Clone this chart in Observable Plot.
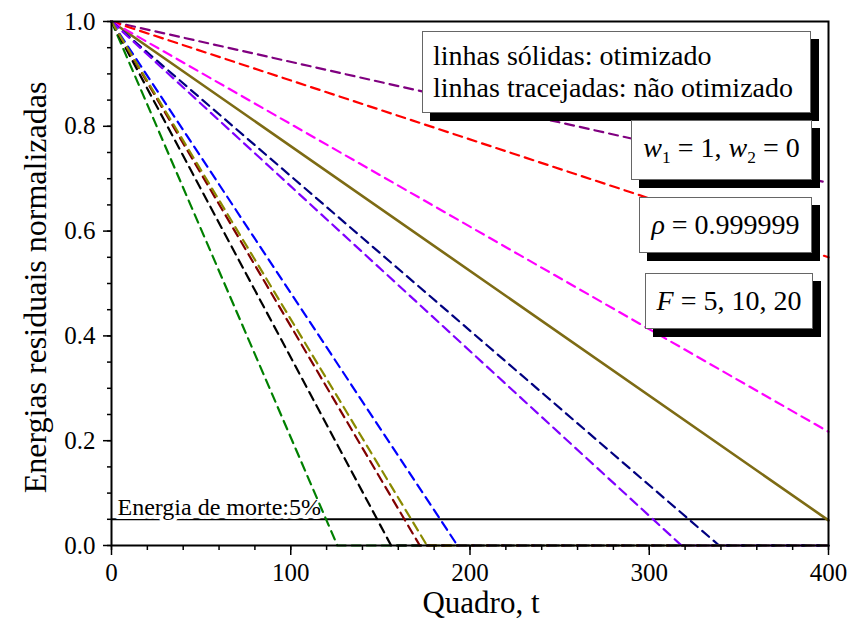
<!DOCTYPE html>
<html><head><meta charset="utf-8">
<script src="https://cdn.jsdelivr.net/npm/d3@7"></script>
<script src="https://cdn.jsdelivr.net/npm/@observablehq/plot@0.6"></script>
<style>
body{margin:0;background:#fff;}
#wrap{position:relative;width:852px;height:621px;font-family:"Liberation Serif",serif;}
#wrap svg, #wrap svg text{font-family:"Liberation Serif",serif !important;}
.box{position:absolute;box-sizing:border-box;background:#fff;border:1px solid #666;box-shadow:8px 8px 0 #000;font-size:28px;color:#000;display:flex;flex-direction:column;justify-content:center;align-items:center;white-space:nowrap;}
.box.left{align-items:flex-start;padding-left:10px;line-height:32px;}
sub{font-size:62%;vertical-align:-0.35em;}
</style></head><body><div id="wrap"></div>
<script>
// ---- data ----
const seriesNames = ["purple", "red", "magenta", "green", "black", "wine", "blue", "navy", "violet", "olive", "optimized"];
const seriesColors = ["#800080", "#ff0000", "#ff00ff", "#008000", "#000000", "#800000", "#0000ff", "#000080", "#8000ff", "#8a8a00", "#7d6b14"];
const seriesDashed = [true, true, true, true, true, true, true, true, true, true, false];
const seriesT = [
  [0, 400], [0, 400], [0, 400],
  [0, 126, 400], [0, 156, 400], [0, 172, 400], [0, 193, 400],
  [0, 339, 400], [0, 318, 400], [0, 176, 400],
  [0, 400]
];
const seriesE = [
  [1, 0.692], [1, 0.55], [1, 0.217],
  [1, 0, 0], [1, 0, 0], [1, 0, 0], [1, 0, 0],
  [1, 0, 0], [1, 0, 0], [1, 0, 0],
  [1, 0.048]
];
const xTicks = [0, 100, 200, 300, 400];
const xMinorTicks = d3.range(0, 401, 20);
const yTicks = [0, 0.2, 0.4, 0.6, 0.8, 1.0];
const yMinorTicks = d3.range(0, 1.0001, 0.05);
const deathEnergy = 0.05;
const deathLabel = "Energia de morte:5%";
const xLabel = "Quadro, ";
const xLabelItalic = "t";
const yLabel = "Energias residuais normalizadas";

// ---- build rows ----
const rows = [];
seriesNames.forEach((s, i) => {
  seriesT[i].forEach((t, j) => rows.push({s, t, e: seriesE[i][j], color: seriesColors[i], dashed: seriesDashed[i]}));
});
const dashedRows = rows.filter(d => d.dashed && d.s !== "olive");
const oliveRows = rows.filter(d => d.s === "olive");
const solidRows = rows.filter(d => !d.dashed);

const plot = Plot.plot({
  width: 852, height: 621,
  marginLeft: 111, marginRight: 24, marginTop: 21, marginBottom: 76,
  x: {domain: [0, 400]},
  y: {domain: [0, 1]},
  color: {type: "identity"},
  style: {fontFamily: "Liberation Serif", fontSize: "25px", color: "#000", background: "#fff"},
  marks: [
    Plot.ruleY([deathEnergy], {stroke: "#000", strokeWidth: 2}),
    Plot.text([deathLabel], {y: () => deathEnergy, frameAnchor: "left", textAnchor: "start", lineAnchor: "middle", dx: 6, dy: -12, fontSize: 24, fill: "#000", stroke: "#fff", strokeWidth: 8}),
    Plot.line(solidRows, {x: "t", y: "e", z: "s", stroke: "color", strokeWidth: 2.6}),
    Plot.line(dashedRows, {x: "t", y: "e", z: "s", stroke: "color", strokeWidth: 2.2, strokeDasharray: "9,6"}),
    Plot.line(oliveRows, {x: "t", y: "e", z: "s", stroke: "color", strokeWidth: 2.2, strokeDasharray: "9,6"}),
    Plot.axisX({ticks: xMinorTicks, tickSize: 5, text: null, strokeWidth: 1.5, label: null}),
    Plot.axisX({ticks: xTicks, tickSize: 10, tickPadding: 8, tickFormat: d => String(d), strokeWidth: 1.5, label: null, fontSize: 25}),
    Plot.axisY({ticks: yMinorTicks, tickSize: 4, text: null, strokeWidth: 1.5, label: null}),
    Plot.axisY({ticks: yTicks, tickSize: 8, tickPadding: 8, tickFormat: d3.format(".1f"), strokeWidth: 1.5, label: null, fontSize: 25}),
    Plot.frame({stroke: "#000", strokeWidth: 2}),
    Plot.text([xLabel + xLabelItalic], {frameAnchor: "bottom", textAnchor: "middle", lineAnchor: "middle", dx: 11, dy: 58, fontSize: 31, fill: "#000", ariaLabel: "xlabel"}),
    Plot.text([yLabel], {frameAnchor: "left", textAnchor: "middle", lineAnchor: "middle", rotate: -90, dx: -76, dy: 4, fontSize: 32, fill: "#000"})
  ]
});

// italic t in x label
const xl = d3.select(plot).select('g[aria-label="xlabel"] text');
xl.text(null);
xl.append("tspan").text(xLabel);
xl.append("tspan").attr("font-style", "italic").text(xLabelItalic);

const wrap = document.getElementById("wrap");
wrap.appendChild(plot);

function addBox(html, left, top, w, h, cls) {
  const d = document.createElement("div");
  d.className = "box" + (cls ? " " + cls : "");
  d.style.left = left + "px"; d.style.top = top + "px";
  d.style.width = w + "px"; d.style.height = h + "px";
  d.innerHTML = html;
  wrap.appendChild(d);
}
addBox("<div>linhas sólidas: otimizado</div><div>linhas tracejadas: não otimizado</div>", 422, 31, 389, 82, "left");
addBox("<div><i>w</i><sub>1</sub> = 1, <i>w</i><sub>2</sub> = 0</div>", 631, 120, 181, 60);
addBox("<div><i>ρ</i> = 0.999999</div>", 639, 197, 173, 56);
addBox("<div><i>F</i> = 5, 10, 20</div>", 645, 273, 168, 56);
</script>
</body></html>
